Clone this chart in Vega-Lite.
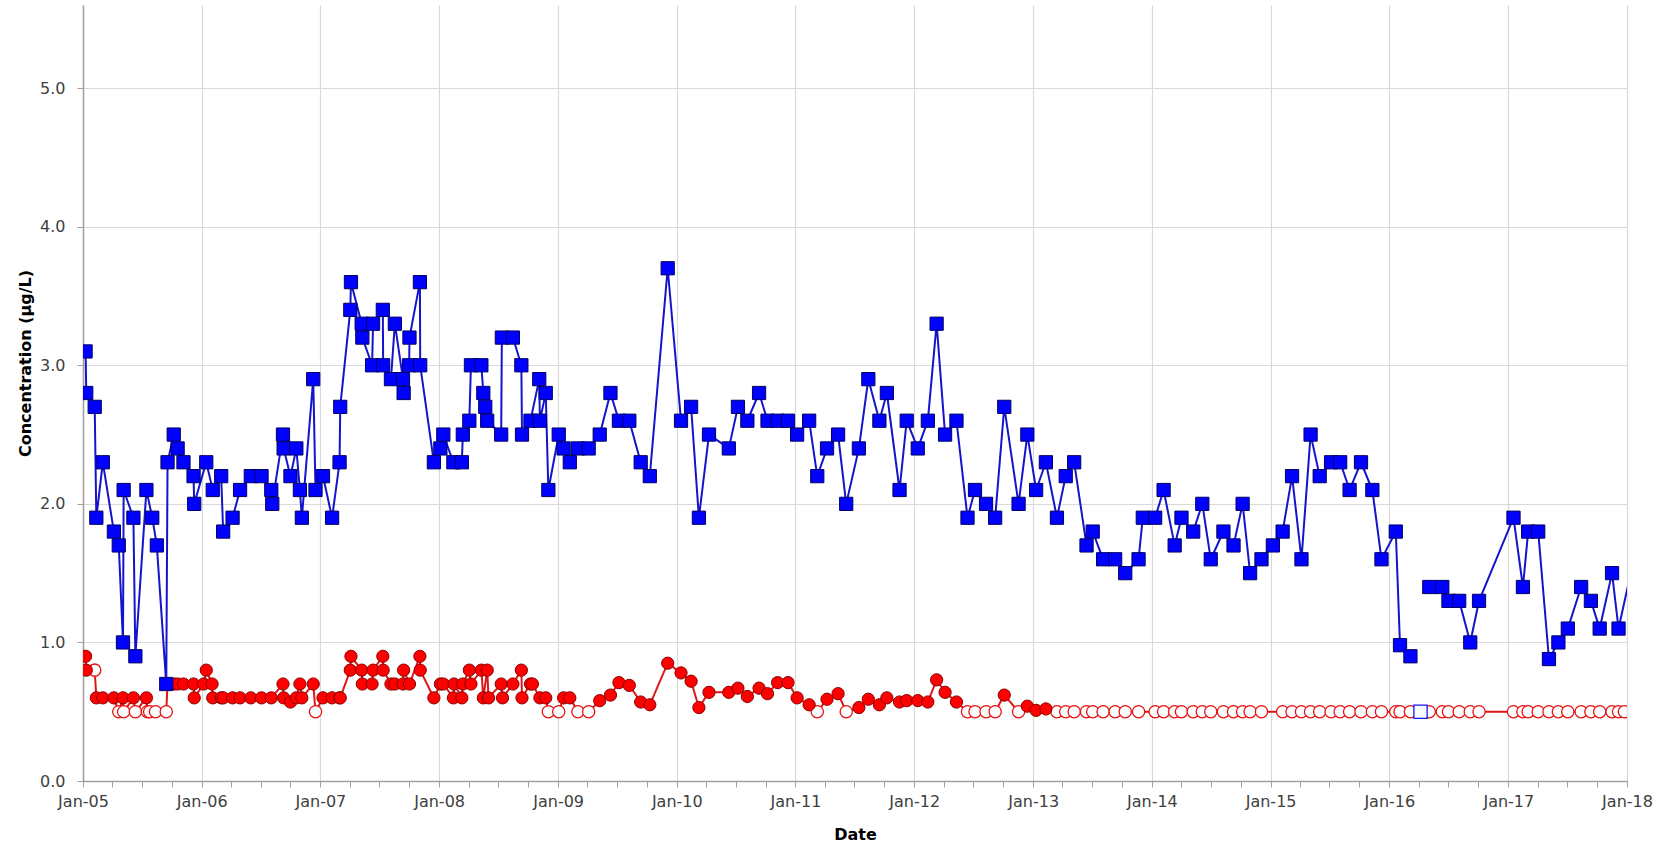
{
  "$schema": "https://vega.github.io/schema/vega-lite/v6.json",
  "width": 1544,
  "height": 776,
  "autosize": "none",
  "padding": {"left": 83, "top": 5, "right": 46, "bottom": 63},
  "background": "white",
  "config": {
    "view": {"stroke": null},
    "axis": {
      "labelFont": "DejaVu Sans",
      "labelFontSize": 16,
      "labelColor": "#404040",
      "titleFont": "DejaVu Sans",
      "titleFontSize": 16,
      "titleFontWeight": "bold",
      "titleColor": "#000000",
      "domainColor": "#a0a0a0",
      "domainWidth": 1.5,
      "tickColor": "#a0a0a0",
      "gridColor": "#d9d9d9",
      "gridWidth": 1.2
    }
  },
  "data": {"values": [
    {"d":"2005-01-09","v":3.1,"s":"B","nd":0,"g":1},
    {"d":"2005-01-11","v":2.8,"s":"B","nd":0,"g":1},
    {"d":"2005-02-06","v":2.7,"s":"B","nd":0,"g":1},
    {"d":"2005-02-11","v":1.9,"s":"B","nd":0,"g":1},
    {"d":"2005-03-03","v":2.3,"s":"B","nd":0,"g":1},
    {"d":"2005-04-06","v":1.8,"s":"B","nd":0,"g":1},
    {"d":"2005-04-21","v":1.7,"s":"B","nd":0,"g":1},
    {"d":"2005-05-04","v":1.0,"s":"B","nd":0,"g":1},
    {"d":"2005-05-06","v":2.1,"s":"B","nd":0,"g":1},
    {"d":"2005-06-05","v":1.9,"s":"B","nd":0,"g":1},
    {"d":"2005-06-11","v":0.9,"s":"B","nd":0,"g":1},
    {"d":"2005-07-15","v":2.1,"s":"B","nd":0,"g":1},
    {"d":"2005-08-02","v":1.9,"s":"B","nd":0,"g":1},
    {"d":"2005-08-16","v":1.7,"s":"B","nd":0,"g":1},
    {"d":"2005-09-14","v":0.7,"s":"B","nd":0,"g":1},
    {"d":"2005-09-18","v":2.3,"s":"B","nd":0,"g":1},
    {"d":"2005-10-07","v":2.5,"s":"B","nd":0,"g":1},
    {"d":"2005-10-19","v":2.4,"s":"B","nd":0,"g":1},
    {"d":"2005-11-06","v":2.3,"s":"B","nd":0,"g":1},
    {"d":"2005-12-07","v":2.2,"s":"B","nd":0,"g":1},
    {"d":"2005-12-09","v":2.0,"s":"B","nd":0,"g":1},
    {"d":"2006-01-15","v":2.3,"s":"B","nd":0,"g":1},
    {"d":"2006-02-04","v":2.1,"s":"B","nd":0,"g":1},
    {"d":"2006-03-02","v":2.2,"s":"B","nd":0,"g":1},
    {"d":"2006-03-08","v":1.8,"s":"B","nd":0,"g":1},
    {"d":"2006-04-06","v":1.9,"s":"B","nd":0,"g":1},
    {"d":"2006-04-29","v":2.1,"s":"B","nd":0,"g":1},
    {"d":"2006-06-01","v":2.2,"s":"B","nd":0,"g":1},
    {"d":"2006-07-04","v":2.2,"s":"B","nd":0,"g":1},
    {"d":"2006-08-03","v":2.1,"s":"B","nd":0,"g":1},
    {"d":"2006-08-06","v":2.0,"s":"B","nd":0,"g":1},
    {"d":"2006-09-08","v":2.5,"s":"B","nd":0,"g":1},
    {"d":"2006-09-10","v":2.4,"s":"B","nd":0,"g":1},
    {"d":"2006-10-01","v":2.2,"s":"B","nd":0,"g":1},
    {"d":"2006-10-19","v":2.4,"s":"B","nd":0,"g":1},
    {"d":"2006-10-30","v":2.1,"s":"B","nd":0,"g":1},
    {"d":"2006-11-05","v":1.9,"s":"B","nd":0,"g":1},
    {"d":"2006-12-10","v":2.9,"s":"B","nd":0,"g":1},
    {"d":"2006-12-17","v":2.1,"s":"B","nd":0,"g":1},
    {"d":"2007-01-09","v":2.2,"s":"B","nd":0,"g":1},
    {"d":"2007-02-06","v":1.9,"s":"B","nd":0,"g":1},
    {"d":"2007-03-01","v":2.3,"s":"B","nd":0,"g":1},
    {"d":"2007-03-03","v":2.7,"s":"B","nd":0,"g":1},
    {"d":"2007-04-03","v":3.4,"s":"B","nd":0,"g":1},
    {"d":"2007-04-05","v":3.6,"s":"B","nd":0,"g":1},
    {"d":"2007-05-08","v":3.3,"s":"B","nd":0,"g":1},
    {"d":"2007-05-10","v":3.2,"s":"B","nd":0,"g":1},
    {"d":"2007-06-09","v":3.0,"s":"B","nd":0,"g":1},
    {"d":"2007-06-12","v":3.3,"s":"B","nd":0,"g":1},
    {"d":"2007-07-12","v":3.4,"s":"B","nd":0,"g":1},
    {"d":"2007-07-13","v":3.0,"s":"B","nd":0,"g":1},
    {"d":"2007-08-06","v":2.9,"s":"B","nd":0,"g":1},
    {"d":"2007-08-18","v":3.3,"s":"B","nd":0,"g":1},
    {"d":"2007-09-12","v":2.9,"s":"B","nd":0,"g":1},
    {"d":"2007-09-14","v":2.8,"s":"B","nd":0,"g":1},
    {"d":"2007-10-01","v":3.0,"s":"B","nd":0,"g":1},
    {"d":"2007-10-02","v":3.2,"s":"B","nd":0,"g":1},
    {"d":"2007-11-03","v":3.6,"s":"B","nd":0,"g":1},
    {"d":"2007-11-04","v":3.0,"s":"B","nd":0,"g":1},
    {"d":"2007-12-16","v":2.3,"s":"B","nd":0,"g":1},
    {"d":"2008-01-05","v":2.4,"s":"B","nd":0,"g":1},
    {"d":"2008-01-14","v":2.5,"s":"B","nd":0,"g":1},
    {"d":"2008-02-14","v":2.3,"s":"B","nd":0,"g":1},
    {"d":"2008-03-11","v":2.3,"s":"B","nd":0,"g":1},
    {"d":"2008-03-14","v":2.5,"s":"B","nd":0,"g":1},
    {"d":"2008-04-03","v":2.6,"s":"B","nd":0,"g":1},
    {"d":"2008-04-08","v":3.0,"s":"B","nd":0,"g":1},
    {"d":"2008-05-10","v":3.0,"s":"B","nd":0,"g":1},
    {"d":"2008-05-16","v":2.8,"s":"B","nd":0,"g":1},
    {"d":"2008-05-22","v":2.7,"s":"B","nd":0,"g":1},
    {"d":"2008-05-28","v":2.6,"s":"B","nd":0,"g":1},
    {"d":"2008-07-10","v":2.5,"s":"B","nd":0,"g":1},
    {"d":"2008-07-12","v":3.2,"s":"B","nd":0,"g":1},
    {"d":"2008-08-15","v":3.2,"s":"B","nd":0,"g":1},
    {"d":"2008-09-10","v":3.0,"s":"B","nd":0,"g":1},
    {"d":"2008-09-12","v":2.5,"s":"B","nd":0,"g":1},
    {"d":"2008-10-08","v":2.6,"s":"B","nd":0,"g":1},
    {"d":"2008-11-04","v":2.9,"s":"B","nd":0,"g":1},
    {"d":"2008-11-06","v":2.6,"s":"B","nd":0,"g":1},
    {"d":"2008-11-24","v":2.8,"s":"B","nd":0,"g":1},
    {"d":"2008-12-02","v":2.1,"s":"B","nd":0,"g":1},
    {"d":"2009-01-03","v":2.5,"s":"B","nd":0,"g":1},
    {"d":"2009-01-18","v":2.4,"s":"B","nd":0,"g":1},
    {"d":"2009-02-06","v":2.3,"s":"B","nd":0,"g":1},
    {"d":"2009-03-03","v":2.4,"s":"B","nd":0,"g":1},
    {"d":"2009-04-05","v":2.4,"s":"B","nd":0,"g":1},
    {"d":"2009-05-09","v":2.5,"s":"B","nd":0,"g":1},
    {"d":"2009-06-11","v":2.8,"s":"B","nd":0,"g":1},
    {"d":"2009-07-07","v":2.6,"s":"B","nd":0,"g":1},
    {"d":"2009-08-08","v":2.6,"s":"B","nd":0,"g":1},
    {"d":"2009-09-12","v":2.3,"s":"B","nd":0,"g":1},
    {"d":"2009-10-10","v":2.2,"s":"B","nd":0,"g":1},
    {"d":"2009-12-04","v":3.7,"s":"B","nd":0,"g":1},
    {"d":"2010-01-14","v":2.6,"s":"B","nd":0,"g":1},
    {"d":"2010-02-14","v":2.7,"s":"B","nd":0,"g":1},
    {"d":"2010-03-10","v":1.9,"s":"B","nd":0,"g":1},
    {"d":"2010-04-10","v":2.5,"s":"B","nd":0,"g":1},
    {"d":"2010-06-10","v":2.4,"s":"B","nd":0,"g":1},
    {"d":"2010-07-08","v":2.7,"s":"B","nd":0,"g":1},
    {"d":"2010-08-06","v":2.6,"s":"B","nd":0,"g":1},
    {"d":"2010-09-11","v":2.8,"s":"B","nd":0,"g":1},
    {"d":"2010-10-07","v":2.6,"s":"B","nd":0,"g":1},
    {"d":"2010-11-07","v":2.6,"s":"B","nd":0,"g":1},
    {"d":"2010-12-09","v":2.6,"s":"B","nd":0,"g":1},
    {"d":"2011-01-06","v":2.5,"s":"B","nd":0,"g":1},
    {"d":"2011-02-12","v":2.6,"s":"B","nd":0,"g":1},
    {"d":"2011-03-09","v":2.2,"s":"B","nd":0,"g":1},
    {"d":"2011-04-08","v":2.4,"s":"B","nd":0,"g":1},
    {"d":"2011-05-12","v":2.5,"s":"B","nd":0,"g":1},
    {"d":"2011-06-06","v":2.0,"s":"B","nd":0,"g":1},
    {"d":"2011-07-15","v":2.4,"s":"B","nd":0,"g":1},
    {"d":"2011-08-13","v":2.9,"s":"B","nd":0,"g":1},
    {"d":"2011-09-16","v":2.6,"s":"B","nd":0,"g":1},
    {"d":"2011-10-09","v":2.8,"s":"B","nd":0,"g":1},
    {"d":"2011-11-17","v":2.1,"s":"B","nd":0,"g":1},
    {"d":"2011-12-09","v":2.6,"s":"B","nd":0,"g":1},
    {"d":"2012-01-12","v":2.4,"s":"B","nd":0,"g":1},
    {"d":"2012-02-12","v":2.6,"s":"B","nd":0,"g":1},
    {"d":"2012-03-10","v":3.3,"s":"B","nd":0,"g":1},
    {"d":"2012-04-05","v":2.5,"s":"B","nd":0,"g":1},
    {"d":"2012-05-10","v":2.6,"s":"B","nd":0,"g":1},
    {"d":"2012-06-13","v":1.9,"s":"B","nd":0,"g":1},
    {"d":"2012-07-06","v":2.1,"s":"B","nd":0,"g":1},
    {"d":"2012-08-09","v":2.0,"s":"B","nd":0,"g":1},
    {"d":"2012-09-06","v":1.9,"s":"B","nd":0,"g":1},
    {"d":"2012-10-04","v":2.7,"s":"B","nd":0,"g":1},
    {"d":"2012-11-17","v":2.0,"s":"B","nd":0,"g":1},
    {"d":"2012-12-14","v":2.5,"s":"B","nd":0,"g":1},
    {"d":"2013-01-10","v":2.1,"s":"B","nd":0,"g":1},
    {"d":"2013-02-09","v":2.3,"s":"B","nd":0,"g":1},
    {"d":"2013-03-15","v":1.9,"s":"B","nd":0,"g":1},
    {"d":"2013-04-11","v":2.2,"s":"B","nd":0,"g":1},
    {"d":"2013-05-07","v":2.3,"s":"B","nd":0,"g":1},
    {"d":"2013-06-14","v":1.7,"s":"B","nd":0,"g":1},
    {"d":"2013-07-03","v":1.8,"s":"B","nd":0,"g":1},
    {"d":"2013-08-04","v":1.6,"s":"B","nd":0,"g":1},
    {"d":"2013-09-10","v":1.6,"s":"B","nd":0,"g":1},
    {"d":"2013-10-11","v":1.5,"s":"B","nd":0,"g":1},
    {"d":"2013-11-21","v":1.6,"s":"B","nd":0,"g":1},
    {"d":"2013-12-04","v":1.9,"s":"B","nd":0,"g":1},
    {"d":"2014-01-11","v":1.9,"s":"B","nd":0,"g":1},
    {"d":"2014-02-06","v":2.1,"s":"B","nd":0,"g":1},
    {"d":"2014-03-12","v":1.7,"s":"B","nd":0,"g":1},
    {"d":"2014-04-02","v":1.9,"s":"B","nd":0,"g":1},
    {"d":"2014-05-08","v":1.8,"s":"B","nd":0,"g":1},
    {"d":"2014-06-05","v":2.0,"s":"B","nd":0,"g":1},
    {"d":"2014-07-01","v":1.6,"s":"B","nd":0,"g":1},
    {"d":"2014-08-09","v":1.8,"s":"B","nd":0,"g":1},
    {"d":"2014-09-09","v":1.7,"s":"B","nd":0,"g":1},
    {"d":"2014-10-07","v":2.0,"s":"B","nd":0,"g":1},
    {"d":"2014-10-30","v":1.5,"s":"B","nd":0,"g":1},
    {"d":"2014-12-04","v":1.6,"s":"B","nd":0,"g":1},
    {"d":"2015-01-08","v":1.7,"s":"B","nd":0,"g":1},
    {"d":"2015-02-07","v":1.8,"s":"B","nd":0,"g":1},
    {"d":"2015-03-08","v":2.2,"s":"B","nd":0,"g":1},
    {"d":"2015-04-06","v":1.6,"s":"B","nd":0,"g":1},
    {"d":"2015-05-04","v":2.5,"s":"B","nd":0,"g":1},
    {"d":"2015-06-01","v":2.2,"s":"B","nd":0,"g":1},
    {"d":"2015-07-06","v":2.3,"s":"B","nd":0,"g":1},
    {"d":"2015-08-03","v":2.3,"s":"B","nd":0,"g":1},
    {"d":"2015-09-01","v":2.1,"s":"B","nd":0,"g":1},
    {"d":"2015-10-06","v":2.3,"s":"B","nd":0,"g":1},
    {"d":"2015-11-10","v":2.1,"s":"B","nd":0,"g":1},
    {"d":"2015-12-08","v":1.6,"s":"B","nd":0,"g":1},
    {"d":"2016-01-21","v":1.8,"s":"B","nd":0,"g":1},
    {"d":"2016-02-03","v":0.98,"s":"B","nd":0,"g":1},
    {"d":"2016-03-06","v":0.9,"s":"B","nd":0,"g":1},
    {"d":"2016-04-06","v":0.5,"s":"B","nd":1,"g":0},
    {"d":"2016-05-03","v":1.4,"s":"B","nd":0,"g":2},
    {"d":"2016-06-12","v":1.4,"s":"B","nd":0,"g":2},
    {"d":"2016-07-01","v":1.3,"s":"B","nd":0,"g":2},
    {"d":"2016-08-03","v":1.3,"s":"B","nd":0,"g":2},
    {"d":"2016-09-06","v":1.0,"s":"B","nd":0,"g":2},
    {"d":"2016-10-03","v":1.3,"s":"B","nd":0,"g":2},
    {"d":"2017-01-17","v":1.9,"s":"B","nd":0,"g":2},
    {"d":"2017-02-15","v":1.4,"s":"B","nd":0,"g":2},
    {"d":"2017-03-03","v":1.8,"s":"B","nd":0,"g":2},
    {"d":"2017-04-03","v":1.8,"s":"B","nd":0,"g":2},
    {"d":"2017-05-06","v":0.88,"s":"B","nd":0,"g":2},
    {"d":"2017-06-04","v":1.0,"s":"B","nd":0,"g":2},
    {"d":"2017-07-03","v":1.1,"s":"B","nd":0,"g":2},
    {"d":"2017-08-13","v":1.4,"s":"B","nd":0,"g":2},
    {"d":"2017-09-12","v":1.3,"s":"B","nd":0,"g":2},
    {"d":"2017-10-09","v":1.1,"s":"B","nd":0,"g":2},
    {"d":"2017-11-16","v":1.5,"s":"B","nd":0,"g":2},
    {"d":"2017-12-06","v":1.1,"s":"B","nd":0,"g":2},
    {"d":"2018-02-05","v":1.75,"s":"B","nd":0,"g":2},

    {"d":"2005-01-09","v":0.9,"s":"R","nd":0,"g":1},
    {"d":"2005-01-11","v":0.8,"s":"R","nd":0,"g":1},
    {"d":"2005-02-06","v":0.8,"s":"R","nd":1,"g":1},
    {"d":"2005-02-11","v":0.6,"s":"R","nd":0,"g":1},
    {"d":"2005-03-03","v":0.6,"s":"R","nd":0,"g":1},
    {"d":"2005-04-06","v":0.6,"s":"R","nd":0,"g":1},
    {"d":"2005-04-21","v":0.5,"s":"R","nd":1,"g":1},
    {"d":"2005-05-04","v":0.6,"s":"R","nd":0,"g":1},
    {"d":"2005-05-06","v":0.5,"s":"R","nd":1,"g":1},
    {"d":"2005-06-05","v":0.6,"s":"R","nd":0,"g":1},
    {"d":"2005-06-11","v":0.5,"s":"R","nd":1,"g":1},
    {"d":"2005-07-15","v":0.6,"s":"R","nd":0,"g":1},
    {"d":"2005-07-18","v":0.5,"s":"R","nd":1,"g":1},
    {"d":"2005-07-25","v":0.5,"s":"R","nd":1,"g":1},
    {"d":"2005-08-12","v":0.5,"s":"R","nd":1,"g":1},
    {"d":"2005-09-14","v":0.5,"s":"R","nd":1,"g":1},
    {"d":"2005-09-18","v":0.7,"s":"R","nd":0,"g":1},
    {"d":"2005-10-07","v":0.7,"s":"R","nd":0,"g":1},
    {"d":"2005-10-19","v":0.7,"s":"R","nd":0,"g":1},
    {"d":"2005-11-06","v":0.7,"s":"R","nd":0,"g":1},
    {"d":"2005-12-07","v":0.7,"s":"R","nd":0,"g":1},
    {"d":"2005-12-09","v":0.6,"s":"R","nd":0,"g":1},
    {"d":"2006-01-07","v":0.7,"s":"R","nd":0,"g":1},
    {"d":"2006-01-15","v":0.8,"s":"R","nd":0,"g":1},
    {"d":"2006-02-02","v":0.7,"s":"R","nd":0,"g":1},
    {"d":"2006-02-04","v":0.6,"s":"R","nd":0,"g":1},
    {"d":"2006-03-02","v":0.6,"s":"R","nd":0,"g":1},
    {"d":"2006-03-08","v":0.6,"s":"R","nd":0,"g":1},
    {"d":"2006-04-06","v":0.6,"s":"R","nd":0,"g":1},
    {"d":"2006-04-29","v":0.6,"s":"R","nd":0,"g":1},
    {"d":"2006-06-01","v":0.6,"s":"R","nd":0,"g":1},
    {"d":"2006-07-04","v":0.6,"s":"R","nd":0,"g":1},
    {"d":"2006-08-03","v":0.6,"s":"R","nd":0,"g":1},
    {"d":"2006-09-08","v":0.7,"s":"R","nd":0,"g":1},
    {"d":"2006-09-10","v":0.6,"s":"R","nd":0,"g":1},
    {"d":"2006-10-01","v":0.57,"s":"R","nd":0,"g":1},
    {"d":"2006-10-19","v":0.6,"s":"R","nd":0,"g":1},
    {"d":"2006-10-30","v":0.7,"s":"R","nd":0,"g":1},
    {"d":"2006-11-05","v":0.6,"s":"R","nd":0,"g":1},
    {"d":"2006-12-10","v":0.7,"s":"R","nd":0,"g":1},
    {"d":"2006-12-17","v":0.5,"s":"R","nd":1,"g":1},
    {"d":"2007-01-09","v":0.6,"s":"R","nd":0,"g":1},
    {"d":"2007-02-06","v":0.6,"s":"R","nd":0,"g":1},
    {"d":"2007-03-01","v":0.6,"s":"R","nd":0,"g":1},
    {"d":"2007-03-03","v":0.6,"s":"R","nd":0,"g":1},
    {"d":"2007-04-03","v":0.8,"s":"R","nd":0,"g":1},
    {"d":"2007-04-05","v":0.9,"s":"R","nd":0,"g":1},
    {"d":"2007-05-08","v":0.8,"s":"R","nd":0,"g":1},
    {"d":"2007-05-10","v":0.7,"s":"R","nd":0,"g":1},
    {"d":"2007-06-09","v":0.7,"s":"R","nd":0,"g":1},
    {"d":"2007-06-12","v":0.8,"s":"R","nd":0,"g":1},
    {"d":"2007-07-12","v":0.9,"s":"R","nd":0,"g":1},
    {"d":"2007-07-13","v":0.8,"s":"R","nd":0,"g":1},
    {"d":"2007-08-06","v":0.7,"s":"R","nd":0,"g":1},
    {"d":"2007-08-18","v":0.7,"s":"R","nd":0,"g":1},
    {"d":"2007-09-12","v":0.7,"s":"R","nd":0,"g":1},
    {"d":"2007-09-14","v":0.8,"s":"R","nd":0,"g":1},
    {"d":"2007-10-02","v":0.7,"s":"R","nd":0,"g":1},
    {"d":"2007-11-03","v":0.9,"s":"R","nd":0,"g":1},
    {"d":"2007-11-04","v":0.8,"s":"R","nd":0,"g":1},
    {"d":"2007-12-16","v":0.6,"s":"R","nd":0,"g":1},
    {"d":"2008-01-05","v":0.7,"s":"R","nd":0,"g":1},
    {"d":"2008-01-14","v":0.7,"s":"R","nd":0,"g":1},
    {"d":"2008-02-14","v":0.6,"s":"R","nd":0,"g":1},
    {"d":"2008-02-16","v":0.7,"s":"R","nd":0,"g":1},
    {"d":"2008-03-11","v":0.6,"s":"R","nd":0,"g":1},
    {"d":"2008-03-14","v":0.7,"s":"R","nd":0,"g":1},
    {"d":"2008-04-03","v":0.8,"s":"R","nd":0,"g":1},
    {"d":"2008-04-08","v":0.7,"s":"R","nd":0,"g":1},
    {"d":"2008-05-10","v":0.8,"s":"R","nd":0,"g":1},
    {"d":"2008-05-16","v":0.6,"s":"R","nd":0,"g":1},
    {"d":"2008-05-28","v":0.8,"s":"R","nd":0,"g":1},
    {"d":"2008-06-01","v":0.6,"s":"R","nd":0,"g":1},
    {"d":"2008-07-10","v":0.7,"s":"R","nd":0,"g":1},
    {"d":"2008-07-14","v":0.6,"s":"R","nd":0,"g":1},
    {"d":"2008-08-15","v":0.7,"s":"R","nd":0,"g":1},
    {"d":"2008-09-10","v":0.8,"s":"R","nd":0,"g":1},
    {"d":"2008-09-12","v":0.6,"s":"R","nd":0,"g":1},
    {"d":"2008-10-08","v":0.7,"s":"R","nd":0,"g":1},
    {"d":"2008-10-14","v":0.7,"s":"R","nd":0,"g":1},
    {"d":"2008-11-06","v":0.6,"s":"R","nd":0,"g":1},
    {"d":"2008-11-24","v":0.6,"s":"R","nd":0,"g":1},
    {"d":"2008-12-02","v":0.5,"s":"R","nd":1,"g":1},
    {"d":"2009-01-03","v":0.5,"s":"R","nd":1,"g":1},
    {"d":"2009-01-18","v":0.6,"s":"R","nd":0,"g":1},
    {"d":"2009-02-06","v":0.6,"s":"R","nd":0,"g":1},
    {"d":"2009-03-03","v":0.5,"s":"R","nd":1,"g":1},
    {"d":"2009-04-05","v":0.5,"s":"R","nd":1,"g":1},
    {"d":"2009-05-09","v":0.58,"s":"R","nd":0,"g":1},
    {"d":"2009-06-11","v":0.62,"s":"R","nd":0,"g":1},
    {"d":"2009-07-07","v":0.71,"s":"R","nd":0,"g":1},
    {"d":"2009-08-08","v":0.69,"s":"R","nd":0,"g":1},
    {"d":"2009-09-12","v":0.57,"s":"R","nd":0,"g":1},
    {"d":"2009-10-10","v":0.55,"s":"R","nd":0,"g":1},
    {"d":"2009-12-04","v":0.85,"s":"R","nd":0,"g":1},
    {"d":"2010-01-14","v":0.78,"s":"R","nd":0,"g":1},
    {"d":"2010-02-14","v":0.72,"s":"R","nd":0,"g":1},
    {"d":"2010-03-10","v":0.53,"s":"R","nd":0,"g":1},
    {"d":"2010-04-10","v":0.64,"s":"R","nd":0,"g":1},
    {"d":"2010-06-10","v":0.64,"s":"R","nd":0,"g":1},
    {"d":"2010-07-08","v":0.67,"s":"R","nd":0,"g":1},
    {"d":"2010-08-06","v":0.61,"s":"R","nd":0,"g":1},
    {"d":"2010-09-11","v":0.67,"s":"R","nd":0,"g":1},
    {"d":"2010-10-07","v":0.63,"s":"R","nd":0,"g":1},
    {"d":"2010-11-07","v":0.71,"s":"R","nd":0,"g":1},
    {"d":"2010-12-09","v":0.71,"s":"R","nd":0,"g":1},
    {"d":"2011-01-06","v":0.6,"s":"R","nd":0,"g":1},
    {"d":"2011-02-12","v":0.55,"s":"R","nd":0,"g":1},
    {"d":"2011-03-09","v":0.5,"s":"R","nd":1,"g":1},
    {"d":"2011-04-08","v":0.59,"s":"R","nd":0,"g":1},
    {"d":"2011-05-12","v":0.63,"s":"R","nd":0,"g":1},
    {"d":"2011-06-06","v":0.5,"s":"R","nd":1,"g":1},
    {"d":"2011-07-15","v":0.53,"s":"R","nd":0,"g":1},
    {"d":"2011-08-13","v":0.59,"s":"R","nd":0,"g":1},
    {"d":"2011-09-16","v":0.55,"s":"R","nd":0,"g":1},
    {"d":"2011-10-09","v":0.6,"s":"R","nd":0,"g":1},
    {"d":"2011-11-17","v":0.57,"s":"R","nd":0,"g":1},
    {"d":"2011-12-09","v":0.58,"s":"R","nd":0,"g":1},
    {"d":"2012-01-12","v":0.58,"s":"R","nd":0,"g":1},
    {"d":"2012-02-12","v":0.57,"s":"R","nd":0,"g":1},
    {"d":"2012-03-10","v":0.73,"s":"R","nd":0,"g":1},
    {"d":"2012-04-05","v":0.64,"s":"R","nd":0,"g":1},
    {"d":"2012-05-10","v":0.57,"s":"R","nd":0,"g":1},
    {"d":"2012-06-13","v":0.5,"s":"R","nd":1,"g":1},
    {"d":"2012-07-06","v":0.5,"s":"R","nd":1,"g":1},
    {"d":"2012-08-09","v":0.5,"s":"R","nd":1,"g":1},
    {"d":"2012-09-06","v":0.5,"s":"R","nd":1,"g":1},
    {"d":"2012-10-04","v":0.62,"s":"R","nd":0,"g":1},
    {"d":"2012-11-17","v":0.5,"s":"R","nd":1,"g":1},
    {"d":"2012-12-14","v":0.54,"s":"R","nd":0,"g":1},
    {"d":"2013-01-10","v":0.51,"s":"R","nd":0,"g":1},
    {"d":"2013-02-09","v":0.52,"s":"R","nd":0,"g":1},
    {"d":"2013-03-15","v":0.5,"s":"R","nd":1,"g":1},
    {"d":"2013-04-11","v":0.5,"s":"R","nd":1,"g":1},
    {"d":"2013-05-07","v":0.5,"s":"R","nd":1,"g":1},
    {"d":"2013-06-14","v":0.5,"s":"R","nd":1,"g":1},
    {"d":"2013-07-03","v":0.5,"s":"R","nd":1,"g":1},
    {"d":"2013-08-04","v":0.5,"s":"R","nd":1,"g":1},
    {"d":"2013-09-10","v":0.5,"s":"R","nd":1,"g":1},
    {"d":"2013-10-11","v":0.5,"s":"R","nd":1,"g":1},
    {"d":"2013-11-21","v":0.5,"s":"R","nd":1,"g":1},
    {"d":"2014-01-11","v":0.5,"s":"R","nd":1,"g":1},
    {"d":"2014-02-06","v":0.5,"s":"R","nd":1,"g":1},
    {"d":"2014-03-12","v":0.5,"s":"R","nd":1,"g":1},
    {"d":"2014-04-02","v":0.5,"s":"R","nd":1,"g":1},
    {"d":"2014-05-08","v":0.5,"s":"R","nd":1,"g":1},
    {"d":"2014-06-05","v":0.5,"s":"R","nd":1,"g":1},
    {"d":"2014-07-01","v":0.5,"s":"R","nd":1,"g":1},
    {"d":"2014-08-09","v":0.5,"s":"R","nd":1,"g":1},
    {"d":"2014-09-09","v":0.5,"s":"R","nd":1,"g":1},
    {"d":"2014-10-07","v":0.5,"s":"R","nd":1,"g":1},
    {"d":"2014-10-30","v":0.5,"s":"R","nd":1,"g":1},
    {"d":"2014-12-04","v":0.5,"s":"R","nd":1,"g":1},
    {"d":"2015-02-07","v":0.5,"s":"R","nd":1,"g":1},
    {"d":"2015-03-08","v":0.5,"s":"R","nd":1,"g":1},
    {"d":"2015-04-06","v":0.5,"s":"R","nd":1,"g":1},
    {"d":"2015-05-04","v":0.5,"s":"R","nd":1,"g":1},
    {"d":"2015-06-01","v":0.5,"s":"R","nd":1,"g":1},
    {"d":"2015-07-06","v":0.5,"s":"R","nd":1,"g":1},
    {"d":"2015-08-03","v":0.5,"s":"R","nd":1,"g":1},
    {"d":"2015-09-01","v":0.5,"s":"R","nd":1,"g":1},
    {"d":"2015-10-06","v":0.5,"s":"R","nd":1,"g":1},
    {"d":"2015-11-10","v":0.5,"s":"R","nd":1,"g":1},
    {"d":"2015-12-08","v":0.5,"s":"R","nd":1,"g":1},
    {"d":"2016-01-21","v":0.5,"s":"R","nd":1,"g":1},
    {"d":"2016-02-03","v":0.5,"s":"R","nd":1,"g":1},
    {"d":"2016-03-06","v":0.5,"s":"R","nd":1,"g":1},
    {"d":"2016-04-06","v":0.5,"s":"R","nd":1,"g":1},
    {"d":"2016-05-03","v":0.5,"s":"R","nd":1,"g":1},
    {"d":"2016-06-12","v":0.5,"s":"R","nd":1,"g":1},
    {"d":"2016-07-01","v":0.5,"s":"R","nd":1,"g":1},
    {"d":"2016-08-03","v":0.5,"s":"R","nd":1,"g":1},
    {"d":"2016-09-06","v":0.5,"s":"R","nd":1,"g":1},
    {"d":"2016-10-03","v":0.5,"s":"R","nd":1,"g":1},
    {"d":"2017-01-17","v":0.5,"s":"R","nd":1,"g":1},
    {"d":"2017-02-15","v":0.5,"s":"R","nd":1,"g":1},
    {"d":"2017-03-03","v":0.5,"s":"R","nd":1,"g":1},
    {"d":"2017-04-03","v":0.5,"s":"R","nd":1,"g":1},
    {"d":"2017-05-06","v":0.5,"s":"R","nd":1,"g":1},
    {"d":"2017-06-04","v":0.5,"s":"R","nd":1,"g":1},
    {"d":"2017-07-03","v":0.5,"s":"R","nd":1,"g":1},
    {"d":"2017-08-13","v":0.5,"s":"R","nd":1,"g":1},
    {"d":"2017-09-12","v":0.5,"s":"R","nd":1,"g":1},
    {"d":"2017-10-09","v":0.5,"s":"R","nd":1,"g":1},
    {"d":"2017-11-16","v":0.5,"s":"R","nd":1,"g":1},
    {"d":"2017-12-06","v":0.5,"s":"R","nd":1,"g":1},
    {"d":"2017-12-24","v":0.5,"s":"R","nd":1,"g":1},
    {"d":"2018-02-05","v":0.5,"s":"R","nd":1,"g":1}
  ]},
  "encoding": {
    "x": {
      "field": "d", "type": "temporal",
      "scale": {"type": "utc", "domain": [{"year": 2005, "month": 1, "date": 1, "utc": true}, {"year": 2018, "month": 1, "date": 1, "utc": true}]},
      "axis": {
        "title": "Date",
        "tickCount": {"interval": "month", "step": 3},
        "labelExpr": "utcmonth(datum.value) == 0 ? utcFormat(datum.value, '%b-%y') : ''",
        "labelOverlap": false,
        "labelFlush": false,
        "labelBound": false,
        "tickSize": 6,
        "labelPadding": 6,
        "gridOpacity": {"condition": {"test": "utcmonth(datum.value) == 0", "value": 1}, "value": 0},
        "titleY": 58,
        "titleBaseline": "alphabetic"
      }
    },
    "y": {
      "field": "v", "type": "quantitative",
      "scale": {"domain": [0, 5.6], "nice": false, "zero": true},
      "axis": {
        "title": "Concentration (µg/L)",
        "values": [0, 1, 2, 3, 4, 5],
        "format": ".1f",
        "tickSize": 6,
        "labelPadding": 12,
        "titleX": -50,
        "titleY": 358,
        "titleAngle": -90,
        "titleAlign": "center",
        "titleBaseline": "bottom"
      }
    }
  },
  "layer": [
    {
      "transform": [{"filter": "datum.s == 'R'"}],
      "mark": {"type": "line", "color": "#e01515", "strokeWidth": 2, "clip": true},
      "encoding": {}
    },
    {
      "transform": [{"filter": "datum.s == 'R' && datum.nd == 1"}],
      "mark": {"type": "point", "shape": "circle", "filled": true, "fill": "#ffffff", "stroke": "#e81010", "strokeWidth": 1.3, "size": 150, "opacity": 1, "clip": true}
    },
    {
      "transform": [{"filter": "datum.s == 'R' && datum.nd == 0"}],
      "mark": {"type": "point", "shape": "circle", "filled": true, "fill": "#ff0000", "stroke": "#8b0000", "strokeWidth": 1, "size": 150, "opacity": 1, "clip": true}
    },
    {
      "transform": [{"filter": "datum.s == 'B' && datum.nd == 0"}],
      "mark": {"type": "line", "color": "#1414cc", "strokeWidth": 2, "clip": true},
      "encoding": {"detail": {"field": "g"}}
    },
    {
      "transform": [{"filter": "datum.s == 'B' && datum.nd == 0"}],
      "mark": {"type": "point", "shape": "square", "filled": true, "fill": "#0000ff", "stroke": "#000066", "strokeWidth": 1, "size": 175, "opacity": 1, "clip": true}
    },
    {
      "transform": [{"filter": "datum.s == 'B' && datum.nd == 1"}],
      "mark": {"type": "point", "shape": "square", "filled": true, "fill": "#ffffff", "stroke": "#1414ff", "strokeWidth": 1.3, "size": 175, "opacity": 1, "clip": true}
    }
  ]
}
